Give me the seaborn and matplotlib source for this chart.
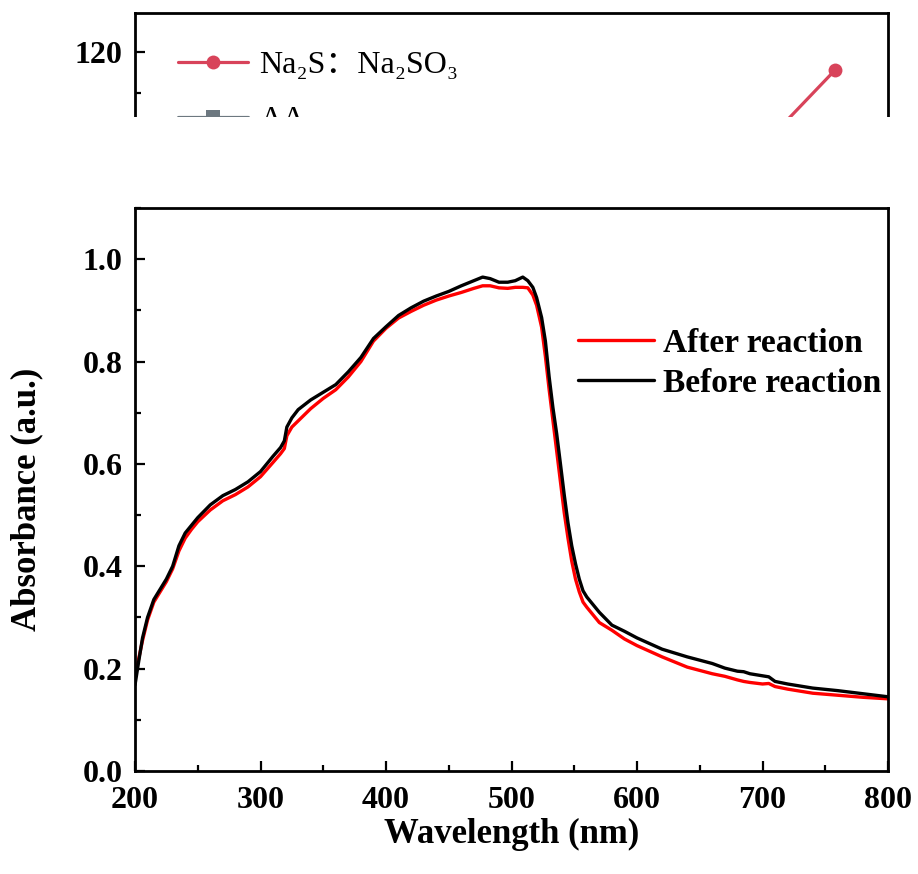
import matplotlib
matplotlib.use("Agg")
import matplotlib.pyplot as plt
from matplotlib.patches import Rectangle
from matplotlib.ticker import MultipleLocator, FormatStrFormatter
import pandas as pd
import seaborn as sns

# UV-vis absorbance spectra (nm, a.u.)
wavelength = [200, 203, 206, 210, 215, 220, 225, 230, 235, 240, 245, 250, 260, 270,
              280, 290, 300, 310, 316, 319, 321, 325, 330, 340, 350, 360, 370, 380,
              390, 400, 410, 420, 430, 440, 450, 460, 470, 477, 483, 490, 497, 503,
              509, 513, 517, 520, 524, 527, 530, 533, 536, 539, 542, 545, 548, 551,
              554, 557, 560, 565, 570, 580, 590, 600, 620, 640, 660, 670, 680, 685,
              690, 700, 705, 710, 720, 740, 760, 780, 800]
absorb_after = [0.185, 0.220, 0.255, 0.295, 0.330, 0.350, 0.370, 0.395, 0.430, 0.455,
                0.472, 0.487, 0.510, 0.528, 0.540, 0.555, 0.575, 0.603, 0.620, 0.630,
                0.655, 0.672, 0.684, 0.708, 0.728, 0.745, 0.770, 0.800, 0.840, 0.865,
                0.885, 0.898, 0.910, 0.920, 0.928, 0.935, 0.943, 0.948, 0.948, 0.944,
                0.943, 0.945, 0.945, 0.944, 0.930, 0.910, 0.867, 0.810, 0.745, 0.685,
                0.625, 0.565, 0.505, 0.455, 0.410, 0.375, 0.350, 0.330, 0.320, 0.305,
                0.290, 0.275, 0.258, 0.245, 0.223, 0.203, 0.190, 0.185, 0.178, 0.175,
                0.173, 0.170, 0.171, 0.165, 0.160, 0.152, 0.148, 0.144, 0.141]
absorb_before = [0.168, 0.215, 0.260, 0.300, 0.335, 0.355, 0.375, 0.400, 0.440, 0.465,
                 0.480, 0.495, 0.520, 0.538, 0.550, 0.565, 0.585, 0.615, 0.632, 0.645,
                 0.672, 0.690, 0.706, 0.725, 0.740, 0.755, 0.780, 0.808, 0.845, 0.868,
                 0.890, 0.905, 0.918, 0.928, 0.937, 0.948, 0.958, 0.965, 0.962, 0.955,
                 0.955, 0.958, 0.965, 0.958, 0.945, 0.925, 0.886, 0.840, 0.770, 0.710,
                 0.659, 0.600, 0.540, 0.485, 0.440, 0.405, 0.375, 0.352, 0.340, 0.325,
                 0.310, 0.285, 0.273, 0.260, 0.238, 0.223, 0.210, 0.201, 0.195, 0.194,
                 0.190, 0.186, 0.184, 0.175, 0.170, 0.162, 0.157, 0.151, 0.145]
sample_names = ["After reaction", "Before reaction"]
sample_colors = ["#ff0000", "#000000"]

# Panel above: ratio comparison
ratio_x = [1, 2, 3, 4, 5]
ratio_na2s = [30.0, 42.0, 55.0, 77.4, 115.6]
ratio_aa = [25.0, 33.0, 45.0, 60.0, 80.0]
ratio_names = ["Na₂S：Na₂SO₃", "AA"]
ratio_colors = ["#d8435a", "#6d7880"]

sns.set_style("ticks")
plt.rcParams["font.family"] = ["Liberation Serif", "DejaVu Serif", "Noto Sans CJK SC"]
plt.rcParams["font.weight"] = "bold"
plt.rcParams["axes.linewidth"] = 2.0
plt.rcParams["axes.edgecolor"] = "black"
plt.rcParams["text.color"] = "black"
plt.rcParams["axes.labelcolor"] = "black"
plt.rcParams["xtick.color"] = "black"
plt.rcParams["ytick.color"] = "black"

W, H = 918, 874
fig = plt.figure(figsize=(W / 100, H / 100), dpi=100)
fig.patch.set_facecolor("white")


def box(left, top, right, bottom):
    return [left / W, 1 - bottom / H, (right - left) / W, (bottom - top) / H]


ax = fig.add_axes(box(135, 208, 888, 771))
ax_top = fig.add_axes(box(135, 13, 888, 117))

# ---- main spectra ----
n = len(wavelength)
spectra = pd.DataFrame({
    "Wavelength": wavelength * 2,
    "Absorbance": absorb_after + absorb_before,
    "Sample": [sample_names[0]] * n + [sample_names[1]] * n,
})
sns.lineplot(data=spectra, x="Wavelength", y="Absorbance", hue="Sample",
             hue_order=sample_names, palette=sample_colors, linewidth=2.4,
             estimator=None, sort=False, ax=ax)

ax.set_xlim(200, 800)
ax.set_ylim(0, 1.1)
ax.xaxis.set_major_locator(MultipleLocator(100))
ax.xaxis.set_minor_locator(MultipleLocator(50))
ax.yaxis.set_major_locator(MultipleLocator(0.2))
ax.yaxis.set_minor_locator(MultipleLocator(0.1))
ax.yaxis.set_major_formatter(FormatStrFormatter("%.1f"))
ax.tick_params(which="both", direction="in", top=False, right=False, width=1.6,
               colors="black")
ax.tick_params(which="major", length=7, labelsize=23)
ax.tick_params(axis="x", which="major", pad=11)
ax.tick_params(axis="y", which="major", pad=9)
ax.tick_params(which="minor", length=4)
for side in ["top", "right", "left", "bottom"]:
    ax.spines[side].set_linewidth(2.0)

ax.set_xlabel("Wavelength (nm)", fontsize=25, fontweight="bold")
ax.set_ylabel("Absorbance (a.u.)", fontsize=25, fontweight="bold")
ax.xaxis.set_label_coords(0.5, -0.083)
ax.yaxis.set_label_coords(-0.122, 0.483)

ax.legend(loc="center left", bbox_to_anchor=(0.588, 0.724), frameon=False,
          prop={"weight": "bold", "size": 24}, handlelength=2.3,
          handletextpad=0.25, labelspacing=0.28, borderpad=0, borderaxespad=0)

# ---- upper panel (ratio series) ----
m = len(ratio_x)
ratios = pd.DataFrame({
    "x": ratio_x * 2,
    "Value": ratio_na2s + ratio_aa,
    "Series": [ratio_names[0]] * m + [ratio_names[1]] * m,
})
sns.lineplot(data=ratios, x="x", y="Value", hue="Series", style="Series",
             hue_order=ratio_names, style_order=ratio_names, palette=ratio_colors,
             markers=["o", "s"], dashes=False, markersize=10, markeredgewidth=0,
             linewidth=2.3, estimator=None, ax=ax_top)
ax_top.set_xlim(0.32, 5.353)
ax_top.set_ylim(104.1, 129.5)
ax_top.yaxis.set_major_locator(MultipleLocator(20))
ax_top.yaxis.set_minor_locator(MultipleLocator(10))
ax_top.spines["bottom"].set_visible(False)
for side in ["top", "right", "left"]:
    ax_top.spines[side].set_linewidth(2.0)
ax_top.tick_params(which="both", direction="in", bottom=False, top=False,
                   right=False, labelbottom=False, width=1.6, colors="black")
ax_top.tick_params(which="major", length=7, labelsize=23, pad=9)
ax_top.tick_params(which="minor", length=4)
ax_top.set_xlabel("")
ax_top.set_ylabel("")
ax_top.legend(loc="upper left", bbox_to_anchor=(0.057, 0.636), frameon=False,
              prop={"weight": "normal", "size": 23}, handlelength=2.2,
              handletextpad=0.35, labelspacing=0.8, borderpad=0, borderaxespad=0)

# blank band separating the upper panel from the spectra
fig.add_artist(Rectangle((0, 1 - 200 / H), 1, (200 - 117) / H,
                         transform=fig.transFigure, facecolor="white",
                         edgecolor="none", zorder=5))

fig.savefig("out.png", dpi=100, facecolor="white")
